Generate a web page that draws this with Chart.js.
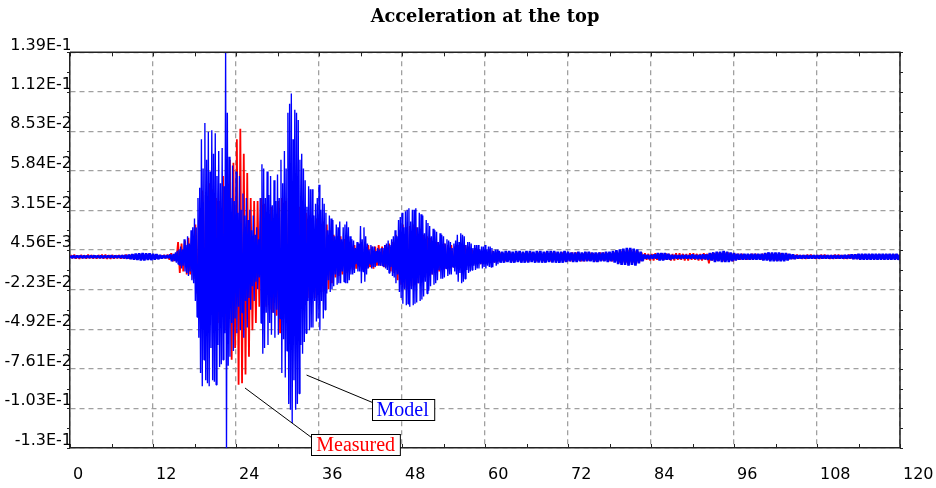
<!DOCTYPE html>
<html>
<head>
<meta charset="utf-8">
<title>Acceleration at the top</title>
<script src="https://cdn.jsdelivr.net/npm/chart.js@4.4.1/dist/chart.umd.min.js"></script>
<style>
    html, body { margin: 0; padding: 0; background: #ffffff; }
    #chart-wrap { position: relative; width: 936px; height: 488px; }
</style>
</head>
<body>
<div id="chart-wrap"><canvas id="accel-chart"></canvas></div>
<script>
// Acceleration records, values in milli-units (x1e-3).
// Quiet parts sampled each 0.25 s (4 per line), model strong motion each 0.125 s (8 per line).

const modelPreEvent = [ // 0 .. 14.75 s
    0.6, -0.6, 0.5, -0.6,
    0.6, -0.5, 0.6, -0.6,
    0.5, -0.6, 0.6, -0.6,
    0.6, -0.5, 0.7, -0.6,
    0.6, -0.6, 0.5, -0.6,
    0.6, -0.6, 0.6, -0.5,
    0.7, -0.6, 0.6, -0.6,
    0.6, -0.6, 0.8, -0.8,
    1.0, -1.2, 1.4, -1.5,
    1.8, -2.0, 2.2, -2.2,
    2.4, -2.4, 2.5, -2.4,
    2.4, -2.2, 2.3, -2.2,
    2.0, -2.0, 1.8, -1.6,
    1.2, -1.0, 0.8, -0.8,
    0.8, -0.8, 1.5, -3.0
];
const modelStrongMotion = [ // 15 .. 61.875 s
    2, -3, 3, -4, 4, -5, 5, -6,
    7, -8, 5, -6, 12, -10, 8, -11,
    14, -13, 9, -10, 18, -16, 20, -18,
    26, -30, 20, -41, 40, -55, 47, -79,
    80, -88, 60, -70, 91, -84, 66, -86,
    85, -88, 58, -62, 86, -84, 70, -85,
    84, -87, 55, -60, 72, -75, 50, -73,
    74, -70, 48, -52, 140, -131, 98, -74,
    68, -68, 40, -45, 62, -64, 38, -42,
    58, -52, 30, -34, 55, -50, 32, -38,
    43, -55, 28, -30, 40, -48, 25, -28,
    32, -36, 18, -20, 28, -30, 15, -17,
    20, -22, 12, -14, 40, -45, 63, -66,
    60, -62, 40, -38, 58, -60, 42, -45,
    55, -53, 35, -38, 52, -55, 38, -36,
    56, -53, 40, -42, 66, -79, 50, -56,
    72, -82, 60, -64, 98, -100, 104, -104,
    111, -113, 80, -84, 100, -104, 98, -100,
    93, -93, 66, -60, 70, -66, 60, -58,
    52, -52, 34, -30, 48, -50, 46, -48,
    46, -48, 28, -30, 36, -44, 40, -42,
    49, -50, 32, -30, 40, -42, 36, -36,
    30, -25, 18, -16, 28, -24, 26, -22,
    25, -20, 14, -12, 22, -19, 20, -18,
    24, -18, 12, -10, 20, -17, 22, -18,
    24, -18, 20, -16, 14, -12, 12, -12,
    11, -11, 6, -5, 10, -10, 9, -10,
    21, -18, 12, -10, 20, -17, 14, -12,
    9, -8, 5, -5, 8, -8, 7, -7,
    7, -7, 4, -4, 6, -6, 5, -6,
    6, -6, 6, -7, 8, -8, 9, -9,
    11, -11, 8, -7, 12, -13, 14, -14,
    18, -18, 14, -12, 25, -24, 27, -28,
    30, -32, 20, -22, 31, -33, 32, -32,
    33, -34, 24, -22, 32, -33, 32, -32,
    33, -31, 20, -18, 30, -30, 29, -29,
    28, -27, 16, -17, 25, -25, 23, -23,
    21, -20, 14, -12, 19, -19, 18, -18,
    17, -16, 10, -9, 16, -15, 15, -15,
    14, -14, 9, -8, 12, -13, 11, -12,
    10, -12, 6, -7, 9, -10, 11, -12,
    15, -17, 10, -11, 16, -18, 15, -17,
    14, -15, 8, -9, 10, -11, 10, -10,
    9, -9, 6, -6, 8, -9, 8, -8,
    8, -8, 5, -5, 7, -8, 7, -7,
    8, -8, 5, -6, 7, -7, 7, -7,
    6, -7, 4, -4, 5, -6, 5, -5
];
const modelCoda = [ // 62 .. 120 s
    4, -4, 3.5, -4,
    4, -3.5, 4, -4,
    3.5, -4, 4, -3.5,
    4, -4, 3.5, -4,
    4, -4, 4, -3.5,
    3.5, -4, 4, -4,
    4, -4, 3.5, -4,
    4, -3.5, 4, -4,
    4, -4, 3.5, -4,
    3.5, -4, 4, -3.5,
    3.5, -3, 3, -3.5,
    3, -3.5, 3.5, -3,
    3, -3, 3.5, -3,
    3.5, -3, 3, -3.5,
    3, -3.5, 3, -3,
    3, -3, 3.5, -3.5,
    3.5, -3, 4, -4,
    4.5, -5, 5, -5.5,
    5.5, -5.5, 6, -6,
    6, -5.5, 5.5, -6,
    5, -4.5, 3.5, -3,
    1.5, -1.2, 1.2, -1.5,
    1.2, -1.2, 1.5, -1.2,
    2.5, -2.5, 2.5, -2.5,
    2.5, -2, 2, -2,
    1.2, -1.2, 1.2, -1,
    1, -1.2, 1.2, -1,
    1.2, -1, 1, -1.2,
    1.5, -1.2, 1.2, -1.5,
    1.2, -1.5, 1.5, -1.5,
    1.5, -2, 2.5, -2.5,
    3, -3.5, 3.5, -3,
    3.5, -3.5, 4, -3.5,
    3.5, -3.5, 3, -3,
    2.5, -2.5, 2, -2,
    2, -2, 2, -2,
    2, -2, 2, -2,
    2, -2, 2, -2,
    2, -2.5, 2.5, -2.5,
    3, -3, 3, -3,
    3, -3, 3, -3,
    2.5, -3, 2.5, -2.5,
    2, -1.5, 1.5, -1.5,
    1, -1, 1, -1,
    1, -1, 1, -1,
    1, -1, 1, -1,
    1, -1, 1, -1,
    1, -1, 1, -1,
    1, -1, 1, -1,
    1, -1, 1, -1,
    1.2, -1, 1.2, -1,
    1.5, -1.5, 1.5, -1.5,
    2, -2, 2, -2,
    2, -2, 2, -2,
    2, -2, 2, -2,
    2, -2, 2, -2,
    2, -2, 2, -2,
    2, -2, 2, -2,
    1.5
];

const measuredPreEvent = [ // 0.125 .. 14.875 s
    1.2, -1.0, 1.5, -1.2,
    1.0, -1.4, 1.3, -1.0,
    1.0, -1.2, 1.5, -1.0,
    1.2, -1.2, 1.0, -1.3,
    1.2, -1.0, 1.4, -1.2,
    1.5, -1.5, 1.2, -1.4,
    1.3, -1.2, 1.0, -1.0,
    1.2, -1.3, 1.1, -1.2,
    1.4, -1.2, 1.3, -1.5,
    1.5, -1.4, 1.6, -1.5,
    1.5, -1.6, 1.4, -1.5,
    1.5, -1.4, 1.5, -1.3,
    1.3, -1.2, 1.2, -1.2,
    1.0, -1.0, 1.2, -1.1,
    1.5, -2.0, 2.5, -3.0
];
const measuredStrongMotion = [ // 15.125 .. 61.875 s
    2, -3, 10, -11,
    9, -10, 11, -12,
    13, -12, 14, -15,
    22, -25, 25, -30,
    45, -40, 42, -38,
    50, -36, 46, -40,
    40, -45, 38, -42,
    55, -50, 60, -48,
    66, -70, 64, -62,
    80, -87, 87, -86,
    70, -80, 57, -68,
    40, -50, 38, -45,
    38, -34, 40, -32,
    36, -34, 32, -36,
    34, -38, 36, -40,
    38, -52, 40, -42,
    38, -36, 40, -38,
    38, -36, 35, -34,
    34, -32, 30, -30,
    30, -28, 28, -26,
    28, -28, 26, -25,
    26, -24, 24, -22,
    22, -22, 18, -18,
    15, -14, 14, -13,
    14, -12, 12, -11,
    12, -10, 10, -9,
    8, -8, 9, -7,
    10, -9, 9, -8,
    8, -7, 7, -8,
    7, -6, 8, -6,
    7, -7, 8, -7,
    9, -10, 10, -11,
    15, -16, 18, -19,
    22, -21, 20, -22,
    21, -20, 22, -19,
    20, -18, 19, -17,
    15, -14, 14, -13,
    13, -12, 12, -11,
    10, -10, 9, -9,
    9, -8, 8, -8,
    8, -7, 7, -7,
    8, -7, 9, -8,
    8, -6, 7, -6,
    5, -5, 6, -5,
    5, -5, 4, -4,
    4, -4, 5, -4,
    4, -4, 3, -3
];
const measuredCoda = [ // 62.125 .. 119.875 s
    3, -3, 2.5, -3,
    3, -2.5, 3, -3,
    2.5, -3, 3, -2.5,
    3, -3, 2.5, -3,
    3, -3, 3, -2.5,
    2.5, -3, 3, -2.5,
    2.5, -3, 3, -2.5,
    2.5, -3, 3, -3,
    3, -2.5, 2.5, -3,
    3, -3, 2.5, -3,
    2.5, -3, 3, -2.5,
    3, -2.5, 2.5, -3,
    2.5, -3, 3, -2.5,
    3, -2.5, 2.5, -3,
    2.5, -3, 3, -2.5,
    3, -2.5, 2.5, -3,
    2.5, -3, 3, -3,
    3.5, -4, 4, -4,
    4, -4, 4.5, -4,
    4.5, -4, 4, -4.5,
    3.5, -3, 3, -2.5,
    2.5, -2, 2, -2.5,
    2, -2.5, 2.5, -2,
    2, -2, 2.5, -2,
    2.5, -2, 2, -2.5,
    2, -2.5, 2.5, -2,
    2.5, -2, 2, -2.5,
    2, -2.5, 2.5, -2,
    2.5, -2, 2, -2.5,
    2, -2.5, 2.5, -2,
    2, -4.5, 2.5, -2.5,
    2.5, -2.5, 3, -2.5,
    2.5, -3, 3, -2.5,
    3, -2.5, 2.5, -3,
    2, -2, 2, -2,
    2, -2, 1.5, -2,
    1.5, -2, 2, -1.5,
    2, -1.5, 1.5, -2,
    2, -2, 2, -2,
    2.5, -2, 2, -2.5,
    2, -2.5, 2.5, -2,
    2, -2, 2, -2,
    1.5, -1.5, 1.5, -1.5,
    1.5, -1.2, 1.2, -1.5,
    1.2, -1.5, 1.5, -1.2,
    1.5, -1.2, 1.2, -1.5,
    1.2, -1.5, 1.5, -1.2,
    1.5, -1.2, 1.2, -1.5,
    1.2, -1.5, 1.5, -1.2,
    1.5, -1.2, 1.2, -1.5,
    1.2, -1.5, 1.5, -1.2,
    1.5, -1.5, 1.5, -1.5,
    1.5, -1.5, 1.5, -1.5,
    1.5, -1.5, 1.5, -1.5,
    1.5, -1.5, 1.5, -1.5,
    1.5, -1.5, 1.5, -1.5,
    1.5, -1.5, 1.5, -1.5,
    1.5, -1.5, 1.5, -1.5
];

const xTickStep = 12;
const yTickLabels = ['-1.3E-1', '-1.03E-1', '-7.61E-2', '-4.92E-2', '-2.23E-2', '4.56E-3',
                     '3.15E-2', '5.84E-2', '8.53E-2', '1.12E-1', '1.39E-1'];

document.addEventListener('DOMContentLoaded', function() {
    Chart.defaults.font.family = "'DejaVu Sans', sans-serif";
    Chart.defaults.font.size = 16;
    Chart.defaults.color = '#000000';

    const colors = {
        model: '#0000ff',
        measured: '#ff0000',
        grid: '#a0a0a0',
        axis: '#222222'
    };

    // sampled segments -> {x, y} points
    function buildSeries(segments) {
        const points = [];
        segments.forEach(function(seg) {
            seg.values.forEach(function(v, i) {
                points.push({ x: seg.start + i * seg.step, y: v / 1000 });
            });
        });
        return points;
    }

    const modelData = buildSeries([
        { start: 0, step: 0.25, values: modelPreEvent },
        { start: 15, step: 0.125, values: modelStrongMotion },
        { start: 62, step: 0.25, values: modelCoda }
    ]);
    const measuredData = buildSeries([
        { start: 0.125, step: 0.25, values: measuredPreEvent },
        { start: 15.125, step: 0.25, values: measuredStrongMotion },
        { start: 62.125, step: 0.25, values: measuredCoda }
    ]);

    // callout boxes, anchored in data coordinates
    const callouts = [
        { text: 'Model', color: colors.model, target: [34.2, -0.0804], box: [48.1, -0.1039] },
        { text: 'Measured', color: colors.measured, target: [25.3, -0.0892], box: [41.3, -0.1279] }
    ];

    const framePlugin = {
        id: 'frame',
        afterLayout: function(chart) {
            // center the title over the plot area
            if (chart.titleBlock) {
                chart.titleBlock.left = chart.chartArea.left;
                chart.titleBlock.right = chart.chartArea.right;
            }
        },
        afterDraw: function(chart) {
            const ctx = chart.ctx;
            const area = chart.chartArea;
            const x = chart.scales.x;
            const y = chart.scales.y;

            ctx.save();
            ctx.strokeStyle = colors.axis;
            ctx.lineWidth = 1.5;
            ctx.beginPath();
            ctx.moveTo(area.left, area.top);
            ctx.lineTo(area.right, area.top);
            ctx.lineTo(area.right, area.bottom);
            ctx.stroke();

            // tick marks, major and minor
            ctx.lineWidth = 1;
            ctx.beginPath();
            for (let t = 0; t <= 120; t += xTickStep / 2) {
                const px = Math.round(x.getPixelForValue(t)) + 0.5;
                ctx.moveTo(px, area.bottom);
                ctx.lineTo(px, area.bottom - 4);
                ctx.moveTo(px, area.top);
                ctx.lineTo(px, area.top + 4);
            }
            const yStep = (area.bottom - area.top) / ((yTickLabels.length - 1) * 2);
            for (let i = 0; i <= (yTickLabels.length - 1) * 2; i++) {
                const py = Math.round(area.top + i * yStep) + 0.5;
                ctx.moveTo(area.left - 3, py);
                ctx.lineTo(area.left, py);
                ctx.moveTo(area.right, py);
                ctx.lineTo(area.right + 3, py);
            }
            ctx.stroke();

            // callouts
            ctx.font = '20px "Liberation Serif", serif';
            ctx.textAlign = 'center';
            ctx.textBaseline = 'middle';
            callouts.forEach(function(c) {
                const px = x.getPixelForValue(c.target[0]);
                const py = y.getPixelForValue(c.target[1]);
                const bx = x.getPixelForValue(c.box[0]);
                const by = y.getPixelForValue(c.box[1]);
                const w = ctx.measureText(c.text).width + 10;
                const h = 21;
                const left = Math.round(bx - w / 2) + 0.5;
                const top = Math.round(by - h / 2) + 0.5;

                ctx.strokeStyle = '#000000';
                ctx.lineWidth = 1;
                ctx.beginPath();
                ctx.moveTo(px, py);
                ctx.lineTo(left, top + 3);
                ctx.stroke();

                ctx.fillStyle = '#ffffff';
                ctx.fillRect(left, top, w, h);
                ctx.strokeRect(left, top, w, h);
                ctx.fillStyle = c.color;
                ctx.fillText(c.text, bx, by + 1);
            });
            ctx.restore();
        }
    };

    const accelCtx = document.getElementById('accel-chart');
    new Chart(accelCtx, {
        type: 'line',
        data: {
            datasets: [
                {
                    label: 'Model',
                    data: modelData,
                    borderColor: colors.model,
                    borderWidth: 1.35,
                    borderJoinStyle: 'bevel',
                    pointRadius: 0,
                    tension: 0,
                    fill: false,
                    segment: {
                        // the quiet parts are sampled coarser, a wider pen keeps the band solid
                        borderWidth: function(ctx) {
                            const t = ctx.p0.parsed.x;
                            return (t < 15 || t >= 62) ? 2.6 : 1.35;
                        }
                    }
                },
                {
                    label: 'Measured',
                    data: measuredData,
                    borderColor: colors.measured,
                    borderWidth: 1.8,
                    borderJoinStyle: 'bevel',
                    pointRadius: 0,
                    tension: 0,
                    fill: false
                }
            ]
        },
        options: {
            responsive: true,
            maintainAspectRatio: false,
            animation: false,
            devicePixelRatio: 1,
            layout: {
                padding: { top: 0, right: 36, bottom: 0, left: 0 }
            },
            plugins: {
                legend: { display: false },
                tooltip: { enabled: false },
                title: {
                    display: true,
                    text: 'Acceleration at the top',
                    color: '#000000',
                    font: { family: "'DejaVu Serif', serif", size: 17.8, weight: 'bold', lineHeight: 1.2 },
                    padding: { top: 7, bottom: 24 }
                }
            },
            scales: {
                x: {
                    type: 'linear',
                    min: 0,
                    max: 120,
                    afterFit: function(scale) {
                        scale.height = 40;
                        scale.paddingLeft = 0;
                        scale.paddingRight = 0;
                    },
                    ticks: {
                        stepSize: xTickStep,
                        align: 'start',
                        labelOffset: 3,
                        padding: 17,
                        autoSkip: false,
                        maxRotation: 0
                    },
                    grid: {
                        color: colors.grid,
                        lineWidth: 1.3,
                        drawTicks: false
                    },
                    border: {
                        display: true,
                        color: colors.axis,
                        width: 1.5,
                        dash: [5, 4]
                    }
                },
                y: {
                    type: 'linear',
                    min: -0.13,
                    max: 0.139,
                    afterFit: function(scale) { scale.width = 70; },
                    afterBuildTicks: function(scale) {
                        scale.ticks = yTickLabels.map(function(s) { return { value: Number(s) }; });
                    },
                    ticks: {
                        autoSkip: false,
                        padding: -2,
                        labelOffset: -7,
                        callback: function(value, index) {
                            return yTickLabels[index];
                        }
                    },
                    grid: {
                        color: colors.grid,
                        lineWidth: 1.3,
                        drawTicks: false
                    },
                    border: {
                        display: true,
                        color: colors.axis,
                        width: 1.5,
                        dash: [5, 4]
                    }
                }
            }
        },
        plugins: [framePlugin]
    });
});
</script>
</body>
</html>
